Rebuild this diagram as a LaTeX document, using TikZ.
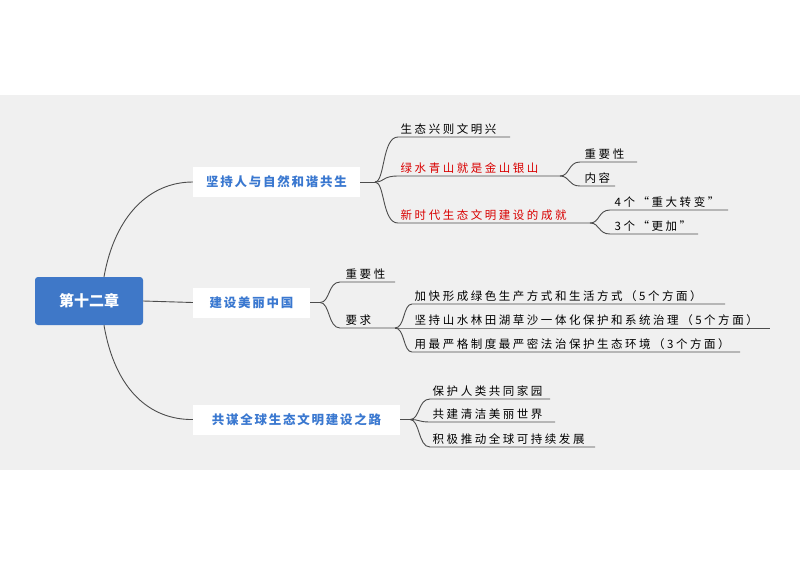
\documentclass[tikz,border=0pt]{standalone}
\usepackage{fontspec}
\newfontfamily\cjk{Noto Sans CJK SC}
\newfontfamily\cjksp[LetterSpace=22]{Noto Sans CJK SC}
\newfontfamily\cjkbr[LetterSpace=14]{Noto Sans CJK SC}
\definecolor{mblue}{HTML}{3F78C8}
\definecolor{tblue}{HTML}{3A78D0}
\begin{document}
\begin{tikzpicture}[x=1pt,y=-1pt,
 every node/.style={font=\cjk},
 ln/.style={draw=black!70,line width=0.9pt},
 leaf/.style={anchor=south west,inner sep=2.5pt,font=\cjksp\fontsize{11.5}{13}\selectfont},
 red/.style={text=red!85!black},
 br/.style={fill=white,inner sep=0pt,minimum height=30pt,text=tblue,font=\cjkbr\bfseries\fontsize{12.5}{14}\selectfont}]
\useasboundingbox (0,0) rectangle (800,566);
\fill[gray!12] (0,95) rectangle (800,470);
\node[fill=mblue,rounded corners=3pt,minimum width=108pt,minimum height=48pt,text=white,font=\cjk\bfseries\fontsize{15}{17}\selectfont] (root) at (89,301) {第十二章};
\node[br,minimum width=167pt] (b1) at (276.5,182) {坚持人与自然和谐共生};
\node[br,minimum width=117pt] (b2) at (251.5,302.5) {建设美丽中国};
\node[br,minimum width=207pt] (b3) at (296.5,419.5) {共谋全球生态文明建设之路};
\draw[ln] (root.north) ++(15,0) coordinate (r1) .. controls (115,215) and (150,182) .. (b1.west);
\draw[ln] (root.east) -- (b2.west);
\draw[ln] (root.south) ++(15,0) coordinate (r3) .. controls (115,390) and (150,420) .. (b3.west);
% branch 1
\coordinate (p1) at (375,182);
\draw[ln] (b1.east) -- (p1);
\foreach \n/\y/\e in {a/137/510,b/176/560,c/223/590}{
 \coordinate (s\n) at (398,\y); \coordinate (e\n) at (\e,\y);
 \draw[ln] (p1) .. controls (385,182) and (382,\y) .. (s\n) -- (e\n);}
\node[leaf] (ta) at (sa) {生态兴则文明兴};
\node[leaf,red] (tb) at (sb) {绿水青山就是金山银山};
\node[leaf,red] (tc) at (sc) {新时代生态文明建设的成就};
\foreach \n/\y/\e in {d/162/637,f/186/615}{
 \coordinate (s\n) at (580,\y); \coordinate (e\n) at (\e,\y);
 \draw[ln] (eb) .. controls (570,176) and (568,\y) .. (s\n) -- (e\n);}
\node[leaf] (td) at ([xshift=2pt]sd) {重要性};
\node[leaf] (tf) at ([xshift=2pt]sf) {内容};
\foreach \n/\y/\e in {g/210/728,h/234/698}{
 \coordinate (s\n) at (610,\y); \coordinate (e\n) at (\e,\y);
 \draw[ln] (ec) .. controls (600,223) and (598,\y) .. (s\n) -- (e\n);}
\node[leaf] (tg) at ([xshift=2pt]sg) {4个“重大转变”};
\node[leaf] (th) at ([xshift=2pt]sh) {3个“更加”};
% branch 2
\coordinate (p2) at (320,302.5);
\draw[ln] (b2.east) -- (p2);
\foreach \n/\y/\e in {i/282/395,j/328/395}{
 \coordinate (s\n) at (340,\y); \coordinate (e\n) at (\e,\y);
 \draw[ln] (p2) .. controls (330,302.5) and (328,\y) .. (s\n) -- (e\n);}
\node[leaf] (ti) at ([xshift=3pt]si) {重要性};
\node[leaf] (tj) at ([xshift=3pt]sj) {要求};
\foreach \n/\y/\e in {k/304/725,l/328/770,m/352/740}{
 \coordinate (s\n) at (412,\y); \coordinate (e\n) at (\e,\y);
 \draw[ln] (ej) .. controls (405,328) and (403,\y) .. (s\n) -- (e\n);}
\node[leaf] (tk) at (sk) {加快形成绿色生产方式和生活方式（5个方面）};
\node[leaf] (tl) at (sl) {坚持山水林田湖草沙一体化保护和系统治理（5个方面）};
\node[leaf] (tm) at (sm) {用最严格制度最严密法治保护生态环境（3个方面）};
% branch 3
\coordinate (p3) at (410,419.5);
\draw[ln] (b3.east) -- (p3);
\foreach \n/\y/\e in {n/399/550,o/422/555,q/447/595}{
 \coordinate (s\n) at (430,\y); \coordinate (e\n) at (\e,\y);
 \draw[ln] (p3) .. controls (420,419.5) and (418,\y) .. (s\n) -- (e\n);}
\node[leaf] (tn) at (sn) {保护人类共同家园};
\node[leaf] (to) at (so) {共建清洁美丽世界};
\node[leaf] (tq) at (sq) {积极推动全球可持续发展};
\end{tikzpicture}
\end{document}
